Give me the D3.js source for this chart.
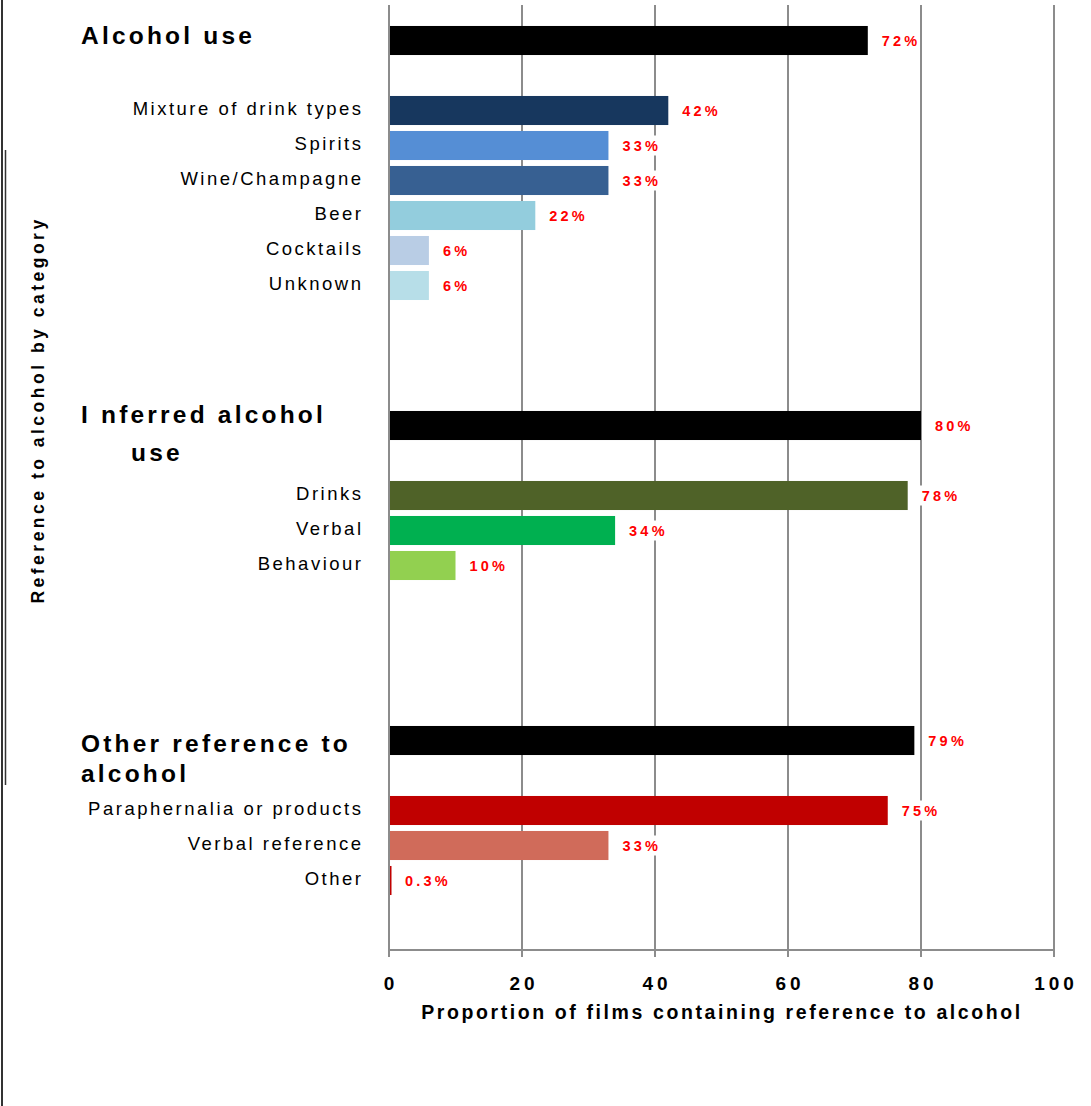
<!DOCTYPE html>
<html><head><meta charset="utf-8">
<script src="https://cdn.jsdelivr.net/npm/d3@7"></script>
<style>body{margin:0;background:#fff;}svg{display:block;font-family:"Liberation Sans",Arial,sans-serif;}</style>
</head><body><div id="chart"></div>
<script>
// rows from top; "s.." = empty spacer rows
const rowKeys = ["Alcohol use","s1","Mixture of drink types","Spirits","Wine/Champagne","Beer","Cocktails","Unknown","s2","s3","s4","Inferred alcohol use","s5","Drinks","Verbal","Behaviour","s6","s7","s8","s9","Other reference to alcohol","s10","Paraphernalia or products","Verbal reference","Other","s11"];
const categories = ["Alcohol use","Mixture of drink types","Spirits","Wine/Champagne","Beer","Cocktails","Unknown","Inferred alcohol use","Drinks","Verbal","Behaviour","Other reference to alcohol","Paraphernalia or products","Verbal reference","Other"];
const values = [72,42,33,33,22,6,6,80,78,34,10,79,75,33,0.3];
const valueLabels = ["72%","42%","33%","33%","22%","6%","6%","80%","78%","34%","10%","79%","75%","33%","0.3%"];
const colors = ["#000000","#17375e","#558ed5","#376092","#93cddd","#b9cde5","#b7dee8","#000000","#4f6228","#00b050","#92d050","#000000","#c00000","#d06b5a","#c00000"];
const headers = ["Alcohol use","Inferred alcohol use","Other reference to alcohol"];
const headerLines = {"Alcohol use":[["Alcohol use",0]],"Inferred alcohol use":[["I nferred alcohol",0],["use",50]],"Other reference to alcohol":[["Other reference to",0],["alcohol",0]]};
const xTicks = [0,20,40,60,80,100];

const W=1091,H=1106;
const svg=d3.select("#chart").append("svg").attr("width",W).attr("height",H);
const x=d3.scaleLinear().domain([0,100]).range([389,1054]);
const y=d3.scaleBand().domain(rowKeys).range([23,933]).paddingInner(0.17).paddingOuter(0.085);

// borders
svg.append("line").attr("x1",2).attr("x2",2).attr("y1",0).attr("y2",H).attr("stroke","#333").attr("stroke-width",2);
svg.append("line").attr("x1",5.5).attr("x2",5.5).attr("y1",150).attr("y2",785).attr("stroke","#333").attr("stroke-width",1.5);

// gridlines
svg.append("g").selectAll("line").data(xTicks).join("line")
 .attr("x1",d=>x(d)).attr("x2",d=>x(d)).attr("y1",5).attr("y2",957)
 .attr("stroke","#8c8c8c").attr("stroke-width",2);
svg.append("line").attr("x1",x(0)).attr("x2",x(100)).attr("y1",950).attr("y2",950).attr("stroke","#8c8c8c").attr("stroke-width",2);

// tick labels
svg.append("g").selectAll("text").data(xTicks).join("text")
 .attr("x",d=>x(d)+2).attr("y",990).attr("text-anchor","middle")
 .attr("font-size",19).attr("font-weight","bold").attr("letter-spacing","4px").attr("fill","#000")
 .text(d=>d);
svg.append("text").attr("x",722).attr("y",1019).attr("text-anchor","middle")
 .attr("font-size",19.5).attr("font-weight","bold").attr("letter-spacing","2.6px")
 .text("Proportion of films containing reference to alcohol");

// y title
svg.append("text").attr("transform","translate(44,410) rotate(-90)").attr("text-anchor","middle")
 .attr("font-size",17.5).attr("font-weight","bold").attr("letter-spacing","3.5px")
 .text("Reference to alcohol by category");

// bars
const data=categories.map((c,i)=>({c,v:values[i],lab:valueLabels[i],col:colors[i]}));
svg.append("g").selectAll("rect").data(data).join("rect")
 .attr("x",x(0)+1).attr("y",d=>y(d.c)).attr("height",y.bandwidth())
 .attr("width",d=>Math.max(1.5,x(d.v)-x(0)-1)).attr("fill",d=>d.col);

// value labels with white backgrounds
const vl=svg.append("g").selectAll("g").data(data).join("g")
 .attr("transform",d=>`translate(${x(d.v)+14},${y(d.c)+y.bandwidth()/2})`);
vl.append("rect").attr("x",-3).attr("y",-10).attr("height",20)
 .attr("width",d=>d.lab.length*12+4).attr("fill","#fff");
vl.append("text").attr("dy","0.35em").attr("font-size",14.5).attr("font-weight","bold")
 .attr("letter-spacing","3.2px").attr("fill","#ff0000").text(d=>d.lab);

// category labels
svg.append("g").selectAll("text").data(data.filter(d=>!headers.includes(d.c))).join("text")
 .attr("x",363.5).attr("y",d=>y(d.c)+y.bandwidth()/2-2).attr("dy","0.35em").attr("text-anchor","end")
 .attr("font-size",18.5).attr("letter-spacing","2.5px").attr("fill","#000").text(d=>d.c);

// headers
const hy={"Alcohol use":[44],"Inferred alcohol use":[423,461],"Other reference to alcohol":[752,782]};
headers.forEach(h=>{
  headerLines[h].forEach((ln,j)=>{
    svg.append("text").attr("x",81+ln[1]).attr("y",hy[h][j])
     .attr("font-size",24.5).attr("font-weight","bold").attr("letter-spacing","3.2px").text(ln[0]);
  });
});
</script></body></html>
